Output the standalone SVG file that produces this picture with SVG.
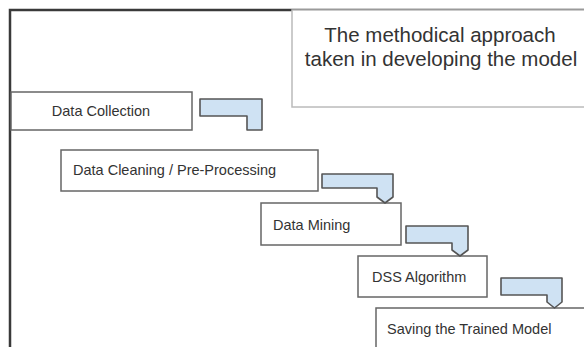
<svg xmlns="http://www.w3.org/2000/svg" width="584" height="347" viewBox="0 0 584 347">
<style>
.box{fill:#fff;stroke:#666;stroke-width:1.5}
.lbl{font-family:"Liberation Sans",Arial,sans-serif;font-size:14.5px;fill:#333}
.conn{fill:#cfe2f3;stroke:#555;stroke-width:1.6;stroke-linejoin:round}
.title{font-family:"Liberation Sans",Arial,sans-serif;font-size:20.5px;fill:#333;text-anchor:middle}
</style>
<rect width="584" height="347" fill="#fff"/>
<path d="M10,347 V10 H584" fill="none" stroke="#3a3a3a" stroke-width="2.5"/>
<g id="title">
<rect x="292" y="10" width="310" height="97" fill="#fff" stroke="#bbb" stroke-width="1.5"/>
<text class="title" x="440" y="42">The methodical approach</text>
<text class="title" x="441" y="66">taken in developing the model</text>
</g>
<g id="n1"><rect class="box" x="11" y="92" width="181" height="38"/><text class="lbl" x="101" y="115.5" text-anchor="middle">Data Collection</text></g>
<g id="n2"><rect class="box" x="61" y="150" width="257" height="41"/><text class="lbl" x="73" y="175">Data Cleaning / Pre-Processing</text></g>
<g id="n3"><rect class="box" x="261" y="203" width="140" height="42"/><text class="lbl" x="273" y="229.5">Data Mining</text></g>
<g id="n4"><rect class="box" x="358" y="256" width="129" height="41"/><text class="lbl" x="372" y="281.5">DSS Algorithm</text></g>
<g id="n5"><rect class="box" x="376" y="308" width="224" height="50"/><text class="lbl" x="387" y="334">Saving the Trained Model</text></g>
<g id="connectors">
<path class="conn" d="M200,99 H262 V130 H247 V116 H200 Z"/>
<path class="conn" d="M322,174 H393 V197 L385,203 L377,197 V188 H322 Z"/>
<path class="conn" d="M406,226 H468 V250 L460,256 L452,250 V243 H406 Z"/>
<path class="conn" d="M501,278 H562 V302 L554.5,308 L547,302 V295 H501 Z"/>
</g>
</svg>
